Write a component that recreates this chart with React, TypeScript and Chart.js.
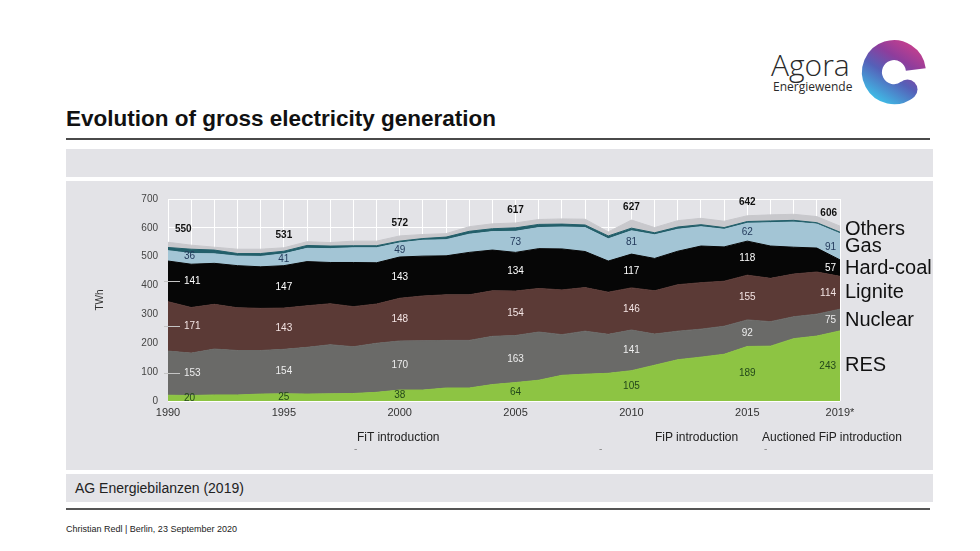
import React, { useEffect, useRef } from 'react';
import { Chart, registerables } from 'chart.js';

Chart.register(...registerables);

const FONT = '"Liberation Sans", Arial, Helvetica, sans-serif';

const years = [
  '1990', '1991', '1992', '1993', '1994', '1995', '1996', '1997', '1998', '1999',
  '2000', '2001', '2002', '2003', '2004', '2005', '2006', '2007', '2008', '2009',
  '2010', '2011', '2012', '2013', '2014', '2015', '2016', '2017', '2018', '2019*',
];
const tickYears = ['1990', '1995', '2000', '2005', '2010', '2015', '2019*'];

const res = [20, 19, 21, 21, 24, 25, 24, 25, 26, 30, 38, 38, 45, 45, 57, 64, 72, 89, 93, 96, 105, 124, 143, 152, 162, 189, 190, 216, 225, 243];
const nuclear = [153, 147, 159, 154, 151, 154, 162, 170, 162, 170, 170, 171, 165, 165, 167, 163, 167, 141, 149, 135, 141, 108, 99, 97, 97, 92, 85, 76, 76, 75];
const lignite = [171, 158, 155, 148, 146, 143, 144, 142, 139, 136, 148, 155, 158, 158, 158, 154, 151, 155, 151, 146, 146, 150, 161, 161, 156, 155, 150, 148, 146, 114];
const hardCoal = [141, 150, 142, 146, 144, 147, 153, 143, 153, 143, 143, 138, 135, 147, 141, 134, 138, 142, 125, 108, 117, 112, 116, 127, 119, 118, 112, 93, 83, 57];
const gas = [36, 37, 33, 33, 36, 41, 46, 48, 51, 52, 49, 55, 56, 63, 64, 73, 73, 76, 83, 77, 81, 82, 76, 67, 61, 62, 81, 87, 83, 91];
const oil = [11, 15, 13, 9, 10, 9, 10, 9, 7, 7, 6, 6, 9, 10, 10, 12, 11, 10, 9, 10, 9, 7, 8, 7, 6, 6, 6, 6, 5, 5];
const others = [18, 14, 10, 15, 15, 12, 13, 12, 16, 16, 18, 14, 12, 16, 17, 17, 17, 18, 20, 14, 28, 18, 22, 22, 22, 20, 21, 21, 21, 21];

const seriesNames = ['RES', 'Nuclear', 'Lignite', 'Hard-coal', 'Gas', 'Oil', 'Others'];
const legendNames = ['RES', 'Nuclear', 'Lignite', 'Hard-coal', 'Gas', '', 'Others'];
const seriesColors = ['#8dc443', '#6a6a68', '#5b3a36', '#060606', '#a3c5d5', '#235f6a', '#c8c8cc'];
const labelColors = ['#23481a', '#eeeeee', '#f3e4e4', '#ffffff', '#243b5c', '', ''];

const PANEL = '#e3e3e7';

const bandLabels = {
  id: 'bandLabels',
  afterDatasetsDraw(chart: any) {
    const { ctx, chartArea } = chart;
    const xs = chart.scales.x;
    const ys = chart.scales.y;
    const series = [res, nuclear, lignite, hardCoal, gas, oil, others];
    const lastIdx = years.length - 1;
    ctx.save();
    ctx.textBaseline = 'middle';
    tickYears.forEach((yr) => {
      const i = years.indexOf(yr);
      const x = xs.getPixelForValue(i);
      let cum = 0;
      series.forEach((s, k) => {
        const v = s[i];
        const mid = ys.getPixelForValue(cum + v / 2);
        cum += v;
        const color = labelColors[k];
        if (!color) return;
        let tx = x;
        let align = 'center';
        if (i === 0) {
          tx = x + 16;
          align = 'left';
          if (k >= 1 && k <= 3) {
            ctx.strokeStyle = '#c4c4c4';
            ctx.lineWidth = 1;
            ctx.beginPath();
            ctx.moveTo(x - 4, Math.round(mid) + 0.5);
            ctx.lineTo(x + 12, Math.round(mid) + 0.5);
            ctx.stroke();
          }
        } else if (i === lastIdx) {
          tx = x - 4;
          align = 'right';
        }
        ctx.font = `10px ${FONT}`;
        ctx.fillStyle = color;
        ctx.textAlign = align;
        ctx.fillText(String(v), tx, mid);
      });
      const top = ys.getPixelForValue(cum);
      let tx = x;
      let align = 'center';
      if (i === 0) { tx = x + 7; align = 'left'; }
      else if (i === lastIdx) { tx = x - 3; align = 'right'; }
      ctx.font = `bold 10px ${FONT}`;
      ctx.fillStyle = '#111';
      ctx.textAlign = align;
      ctx.fillText(String(cum), tx, top - 13);
    });
    let cum = 0;
    ctx.font = `20px ${FONT}`;
    ctx.fillStyle = '#111';
    ctx.textAlign = 'left';
    series.forEach((s, k) => {
      const v = s[lastIdx];
      const mid = ys.getPixelForValue(cum + v / 2);
      cum += v;
      if (legendNames[k]) ctx.fillText(legendNames[k], chartArea.right + 5, mid);
    });
    ctx.restore();
  },
};

function Logo() {
  return (
    <svg width={980} height={130} style={{ position: 'absolute', left: 0, top: 0 }}>
      <defs>
        <linearGradient id="ag" gradientUnits="userSpaceOnUse" x1={922} y1={44} x2={884} y2={104}>
          <stop offset="0" stopColor="#d3408a" />
          <stop offset="0.35" stopColor="#8e3d9c" />
          <stop offset="0.62" stopColor="#5560b8" />
          <stop offset="1" stopColor="#3fbbe6" />
        </linearGradient>
      </defs>
      <path d="M 915.8 69.4 A 22 22 0 1 0 907.5 89.5" fill="none" stroke="url(#ag)" strokeWidth={20} strokeLinecap="butt" />
      <circle cx={907.5} cy={89.5} r={10} fill="url(#ag)" />
    </svg>
  );
}

export default function App() {
  const ref = useRef<HTMLCanvasElement>(null);
  useEffect(() => {
    if (!ref.current) return;
    const series = [res, nuclear, lignite, hardCoal, gas, oil, others];
    const chart = new Chart(ref.current, {
      type: 'line',
      data: {
        labels: years,
        datasets: series.map((s, k) => ({
          label: seriesNames[k],
          data: s,
          backgroundColor: seriesColors[k],
          borderColor: seriesColors[k],
          borderWidth: 1,
          pointRadius: 0,
          tension: 0,
          fill: k === 0 ? 'origin' : '-1',
        })),
      },
      options: {
        responsive: false,
        animation: false,
        layout: { padding: { left: 0, right: 93, top: 18, bottom: 0 } },
        plugins: { legend: { display: false }, tooltip: { enabled: false } },
        scales: {
          x: {
            grid: { color: '#ffffff', lineWidth: 1, drawTicks: false },
            border: { display: false },
            ticks: {
              autoSkip: false,
              maxRotation: 0,
              padding: 5,
              color: '#333',
              font: { family: FONT, size: 11 },
              callback: (value: any) => {
                const l = years[value as number];
                return tickYears.includes(l) ? l : '';
              },
            },
            afterFit: (s: any) => { s.height = 69; },
          },
          y: {
            stacked: true,
            min: 0,
            max: 700,
            grid: { color: '#ffffff', lineWidth: 1, drawTicks: false },
            border: { display: false },
            ticks: { stepSize: 100, padding: 10, color: '#444', font: { family: FONT, size: 10 } },
            title: {
              display: true,
              text: 'TWh',
              color: '#333',
              font: { family: FONT, size: 10 },
              padding: { top: 28, bottom: 0 },
            },
            afterFit: (s: any) => { s.width = 102; },
          },
        },
      },
      plugins: [bandLabels],
    });
    return () => chart.destroy();
  }, []);

  const abs = (s: React.CSSProperties): React.CSSProperties => ({ position: 'absolute', whiteSpace: 'nowrap', ...s });

  return (
    <div style={abs({ left: 0, top: 0, width: 980, height: 551, background: '#ffffff', fontFamily: FONT, overflow: 'hidden' })}>
      <Logo />
      <div style={abs({ left: 771, top: 50, fontFamily: '"Open Sans", sans-serif', fontWeight: 300, fontSize: 30, lineHeight: '30px', color: '#2a2a2a' })}>Agora</div>
      <div style={abs({ left: 773, top: 80.5, fontFamily: '"Open Sans", sans-serif', fontSize: 12, lineHeight: '12px', color: '#2a2a2a' })}>Energiewende</div>

      <div style={abs({ left: 66, top: 107.5, fontSize: 22.5, lineHeight: '22.5px', fontWeight: 'bold', color: '#111' })}>Evolution of gross electricity generation</div>
      <div style={abs({ left: 66, top: 138, width: 864, height: 1.5, background: '#4a4a4a' })} />

      <div style={abs({ left: 66, top: 149, width: 867, height: 28, background: PANEL })} />
      <div style={abs({ left: 66, top: 181, width: 867, height: 289, background: PANEL })} />
      <canvas ref={ref} width={867} height={289} style={{ position: 'absolute', left: 66, top: 181, width: 867, height: 289 }} />

      <div style={abs({ left: 357, top: 431, fontSize: 12, lineHeight: '12px', color: '#222' })}>FiT introduction</div>
      <div style={abs({ left: 655, top: 431, fontSize: 12, lineHeight: '12px', color: '#222' })}>FiP introduction</div>
      <div style={abs({ left: 762, top: 431, fontSize: 12, lineHeight: '12px', color: '#222' })}>Auctioned FiP introduction</div>
      <div style={abs({ left: 354, top: 443.5, fontSize: 10, lineHeight: '10px', color: '#888' })}>-</div>
      <div style={abs({ left: 599, top: 443.5, fontSize: 10, lineHeight: '10px', color: '#888' })}>-</div>
      <div style={abs({ left: 764, top: 443.5, fontSize: 10, lineHeight: '10px', color: '#888' })}>-</div>

      <div style={abs({ left: 66, top: 474, width: 867, height: 28, background: PANEL })} />
      <div style={abs({ left: 75, top: 481, fontSize: 14, lineHeight: '14px', color: '#222' })}>AG Energiebilanzen (2019)</div>
      <div style={abs({ left: 66, top: 508, width: 864, height: 2, background: '#555555' })} />
      <div style={abs({ left: 66, top: 524.5, fontSize: 9, lineHeight: '9px', color: '#222' })}>Christian Redl | Berlin, 23 September 2020</div>
    </div>
  );
}
